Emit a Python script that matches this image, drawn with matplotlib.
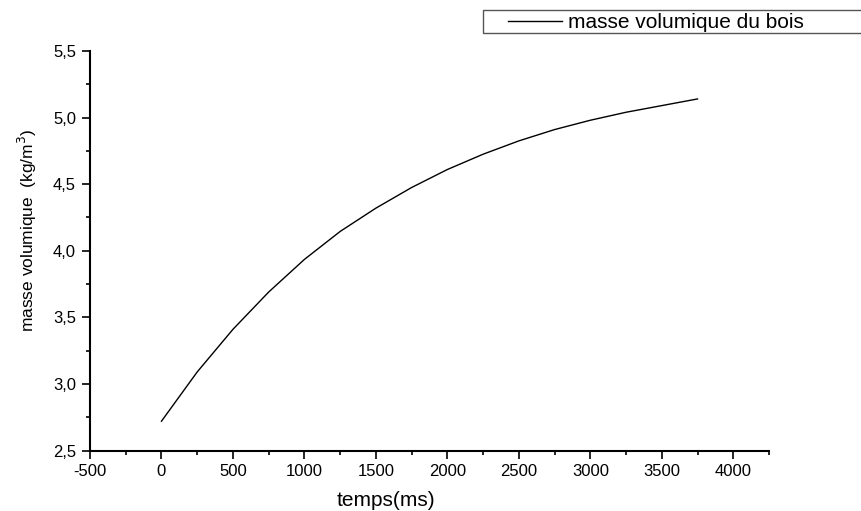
import matplotlib
matplotlib.use("Agg")
import matplotlib.pyplot as plt
from matplotlib.ticker import MultipleLocator, FuncFormatter
from matplotlib.patches import Rectangle
from matplotlib.lines import Line2D

# data
temps_ms = [0, 250, 500, 750, 1000, 1250, 1500, 1750, 2000, 2250,
            2500, 2750, 3000, 3250, 3500, 3750]
masse_vol = [2.72, 3.09, 3.41, 3.69, 3.935, 4.145, 4.32, 4.475, 4.61, 4.725,
             4.825, 4.91, 4.98, 5.04, 5.09, 5.14]
serie_label = "masse volumique du bois"

plt.rcParams['font.family'] = ['Liberation Sans', 'DejaVu Sans']
plt.rcParams['axes.unicode_minus'] = False

W, H = 862, 511


def fx(x):
    return x / W


def fy(y):
    return 1 - y / H


fig = plt.figure(figsize=(W / 100, H / 100), dpi=100)
ax = fig.add_axes([fx(90), fy(450.5), (769 - 90) / W, (450.5 - 51) / H])

ax.plot(temps_ms, masse_vol, color='black', linewidth=1.0,
        solid_joinstyle='round', label=serie_label)

ax.set_xlim(-500, 4250)
ax.set_ylim(2.5, 5.5)

# only left and bottom axes
ax.spines['top'].set_visible(False)
ax.spines['right'].set_visible(False)
for s in ('left', 'bottom'):
    ax.spines[s].set_linewidth(1.5)

ax.xaxis.set_major_locator(MultipleLocator(500))
ax.xaxis.set_minor_locator(MultipleLocator(250))
ax.yaxis.set_major_locator(MultipleLocator(0.5))
ax.yaxis.set_minor_locator(MultipleLocator(0.25))
ax.yaxis.set_major_formatter(FuncFormatter(lambda v, p: f"{v:.1f}".replace('.', ',')))

ax.tick_params(which='major', direction='out', length=6, width=1.2, labelsize=12, pad=4)
ax.tick_params(which='minor', direction='out', length=3, width=1.2)

fig.text(fx(386), fy(500), "temps(ms)", ha='center', va='center', fontsize=15)
fig.text(fx(27), fy(230), "masse volumique  (kg/m$^3$)", ha='center', va='center',
         rotation=90, fontsize=12.5)

# legend box, drawn by hand so it runs off the right edge like the original
fig.patches.append(Rectangle((fx(483), fy(33)), (920 - 483) / W, 23 / H,
                             transform=fig.transFigure, facecolor='white',
                             edgecolor='#555555', linewidth=1.0))
fig.lines.append(Line2D([fx(508), fx(562)], [fy(21.5), fy(21.5)],
                        transform=fig.transFigure, color='black', linewidth=1.0))
fig.text(fx(568), fy(22), serie_label, ha='left', va='center', fontsize=15)

fig.savefig("out.png", dpi=100)
